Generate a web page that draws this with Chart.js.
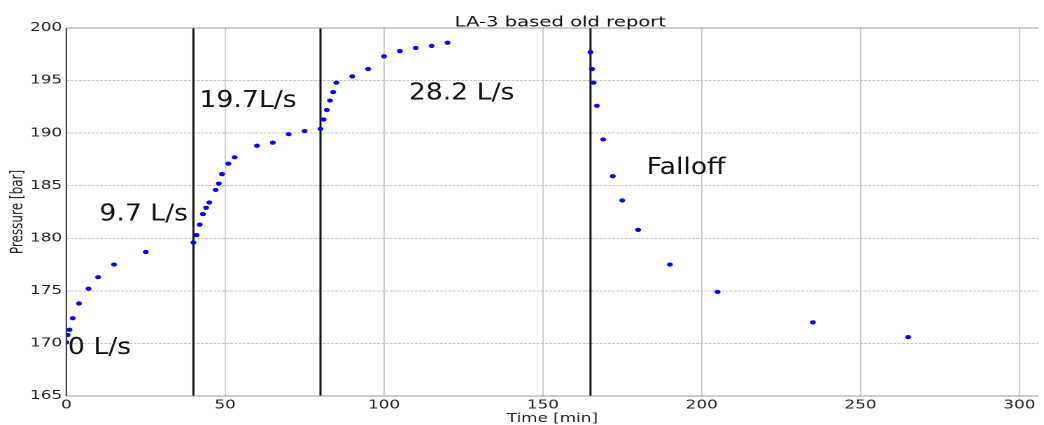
<!DOCTYPE html>
<html>
<head>
<meta charset="utf-8">
<title>LA-3 based old report</title>
<script src="https://cdn.jsdelivr.net/npm/chart.js@4/dist/chart.umd.min.js"></script>
<style>
  html, body { margin: 0; padding: 0; background: #fff; }
</style>
</head>
<body>
<!-- the original figure was stretched sideways, so the canvas is too -->
<canvas id="chart" width="746" height="425" style="display:block;width:1044px;height:425px"></canvas>
<script>
// ---- data ----
const timeMin = [0, 0.4, 1, 2, 4, 7, 10, 15, 25,
  40, 41, 42, 43, 44, 45, 47, 48, 49, 51, 53, 60, 65, 70, 75,
  80, 81, 82, 83, 84, 85, 90, 95, 100, 105, 110, 115, 120,
  165, 165.5, 166, 167, 169, 172, 175, 180, 190, 205, 235, 265];
const pressureBar = [170.1, 170.8, 171.3, 172.4, 173.8, 175.2, 176.3, 177.5, 178.7,
  179.6, 180.3, 181.3, 182.3, 182.9, 183.4, 184.6, 185.2, 186.1, 187.1, 187.7, 188.8, 189.1, 189.9, 190.2,
  190.4, 191.3, 192.2, 193.1, 193.9, 194.8, 195.4, 196.1, 197.3, 197.8, 198.1, 198.3, 198.6,
  197.7, 196.1, 194.8, 192.6, 189.4, 185.9, 183.6, 180.8, 177.5, 174.9, 172.0, 170.6];

// times where the rate changes (vertical lines)
const rateChangeMin = [40, 80, 165];
// stage labels, placed in data units (time, pressure)
const stageText = ['0 L/s', '9.7 L/s', '19.7L/s', '28.2 L/s', 'Falloff'];
const stageTime = [0.5, 10.4, 41.9, 107.8, 182.7];
const stagePress = [169.0, 181.7, 192.5, 193.2, 186.1];

const xRange = [0, 306];
const yRange = [165, 200];
const xTickStep = 50;
const yTickStep = 5;
const chartTitle = 'LA-3 based old report';
const xTitle = 'Time [min]';
const yTitle = 'Pressure [bar]';

const STRETCH = 1044 / 746;
const FONT = "'DejaVu Sans', sans-serif";

const frame = {
  id: 'frame',
  afterDatasetsDraw(chart) {
    const { ctx, chartArea: a } = chart;
    ctx.save();
    ctx.lineWidth = 1;
    ctx.strokeStyle = '#9a9a9a';
    ctx.beginPath();
    ctx.moveTo(a.left, a.top); ctx.lineTo(a.right, a.top);
    ctx.moveTo(a.left, a.bottom); ctx.lineTo(a.right, a.bottom);
    ctx.stroke();
    ctx.strokeStyle = '#333';
    ctx.beginPath();
    ctx.moveTo(a.left, a.top); ctx.lineTo(a.left, a.bottom);
    ctx.stroke();

    // title
    ctx.fillStyle = '#111';
    ctx.font = '14px ' + FONT;
    ctx.textAlign = 'center';
    ctx.textBaseline = 'alphabetic';
    ctx.fillText(chartTitle, chart.scales.x.getPixelForValue(155.5), 26.5);

    // stage labels (added less stretched on top of the figure)
    const xs = chart.scales.x, ys = chart.scales.y;
    ctx.font = '23px ' + FONT;
    ctx.textAlign = 'left';
    stageText.forEach((t, i) => {
      ctx.save();
      ctx.translate(xs.getPixelForValue(stageTime[i]), ys.getPixelForValue(stagePress[i]));
      ctx.scale(1.16 / STRETCH, 1);
      ctx.fillText(t, 0, 0);
      ctx.restore();
    });
    ctx.restore();
  }
};

const lineSets = rateChangeMin.map(t => ({
  type: 'line',
  data: [{ x: t, y: yRange[0] }, { x: t, y: yRange[1] }],
  borderColor: '#111',
  borderWidth: 1.5,
  pointRadius: 0,
  fill: false
}));

new Chart(document.getElementById('chart'), {
  type: 'scatter',
  data: {
    datasets: [{
      data: timeMin.map((t, i) => ({ x: t, y: pressureBar[i] })),
      backgroundColor: '#0000ff',
      borderWidth: 0,
      pointRadius: 2.1
    }, ...lineSets]
  },
  options: {
    responsive: false,
    devicePixelRatio: 2,
    animation: false,
    layout: { padding: { top: 28, right: 0, bottom: 0, left: 0 } },
    plugins: { legend: { display: false }, tooltip: { enabled: false }, title: { display: false } },
    scales: {
      x: {
        type: 'linear', min: xRange[0], max: xRange[1],
        ticks: { stepSize: xTickStep, includeBounds: false, color: '#222', padding: 2, maxRotation: 0, font: { family: FONT, size: 12 } },
        grid: { color: '#cccccc', lineWidth: 1, drawTicks: false },
        border: { display: false },
        title: { display: true, text: xTitle, color: '#222', padding: { top: 0, bottom: 0 }, font: { family: FONT, size: 12, lineHeight: 1 } },
        afterFit: s => { s.height = 29; }
      },
      y: {
        min: yRange[0], max: yRange[1],
        ticks: { stepSize: yTickStep, color: '#222', padding: 3, font: { family: FONT, size: 12 } },
        grid: { color: '#c4c4c4', lineWidth: 1, drawTicks: false },
        border: { display: false, dash: [2, 1] },
        title: { display: true, text: yTitle, color: '#222', padding: { top: 5.5, bottom: 0 }, font: { family: FONT, size: 12 } },
        afterFit: s => { s.width = 47.4; }
      }
    }
  },
  plugins: [frame]
});
</script>
</body>
</html>
